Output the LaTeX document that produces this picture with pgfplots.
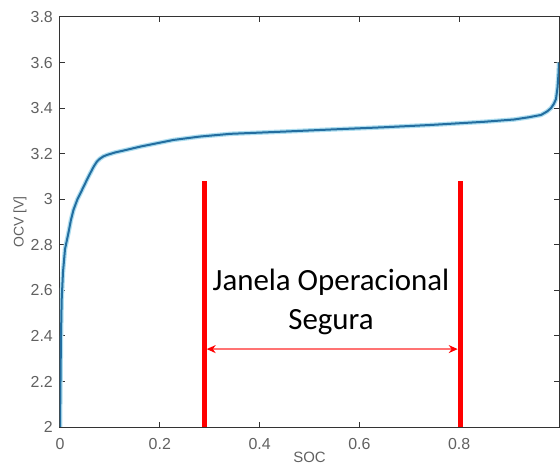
\documentclass[border=0pt]{standalone}
\usepackage{fontspec}
\setmainfont{Liberation Sans}
\newfontfamily\calibri{Carlito}
\usepackage{pgfplots}
\usepackage{pgfplotstable}
\pgfplotsset{compat=1.18}
\usetikzlibrary{arrows.meta}
\definecolor{curveblue}{RGB}{35,110,160}
\definecolor{curveglow}{RGB}{175,222,240}
\pgfplotstableread{
x y
0 2.0
0.001 2.2
0.002 2.4
0.0034 2.56
0.006 2.68
0.010 2.78
0.0167 2.85
0.022 2.91
0.027 2.953
0.035 3.00
0.044 3.04
0.055 3.09
0.062 3.12
0.068 3.145
0.074 3.165
0.080 3.178
0.087 3.188
0.095 3.195
0.110 3.205
0.130 3.215
0.161 3.231
0.195 3.246
0.227 3.26
0.280 3.275
0.341 3.287
0.450 3.297
0.542 3.306
0.650 3.316
0.743 3.326
0.850 3.340
0.910 3.350
0.940 3.360
0.964 3.370
0.976 3.385
0.984 3.400
0.990 3.420
0.994 3.440
0.997 3.490
0.999 3.550
1.000 3.600
}\ocv
\begin{document}
\begin{tikzpicture}
\begin{axis}[
  at={(0,0)}, anchor=south west,
  scale only axis, width=499bp, height=410bp,
  xmin=0, xmax=1, ymin=2, ymax=3.8,
  xtick={0,0.2,0.4,0.6,0.8,1},
  xticklabels={0,0.2,0.4,0.6,0.8,},
  ytick={2,2.2,2.4,2.6,2.8,3,3.2,3.4,3.6,3.8},
  yticklabels={2,2.2,2.4,2.6,2.8,3,3.2,3.4,3.6,3.8},
  tick align=inside, tick pos=both,
  major tick length=5bp,
  axis line style={draw=black!80, line width=1bp},
  every tick/.style={draw=black!80, line width=1bp},
  /pgf/number format/assume math mode=true,
  tick label style={font=\fontsize{16}{16}\selectfont, text=black!62, inner sep=0pt},
  yticklabel style={xshift=-7bp},
  xticklabel style={yshift=-11bp},
  xlabel={SOC},
  ylabel={OCV [V]},
  xlabel style={at={(axis description cs:0.5,0)}, anchor=north, yshift=-25bp, inner sep=0pt, font=\fontsize{15}{15}\selectfont, text=black!62},
  ylabel style={at={([xshift=-40bp]axis description cs:0,0.5)}, anchor=center, inner sep=0pt, font=\fontsize{14}{14}\selectfont, text=black!62},
  clip=true,
]
\addplot[curveglow, line width=4.5bp, line join=round] table {\ocv};
\addplot[curveblue, line width=2bp, line join=round] table {\ocv};
\addplot[red, line width=5bp] coordinates {(0.2886,2.0) (0.2886,3.08)};
\addplot[red, line width=5bp] coordinates {(0.8016,2.0) (0.8016,3.08)};
\addplot[red!55, line width=1.3bp, {Stealth[red,length=9bp,width=8bp]}-{Stealth[red,length=9bp,width=8bp]}] coordinates {(0.294,2.342) (0.797,2.342)};
\node[font=\calibri\fontsize{31}{40}\selectfont, align=center, text=black, inner sep=0pt] at (axis cs:0.543,2.549) {Janela Operacional\\Segura};
\end{axis}
\pgfresetboundingbox
\path[use as bounding box] (-60bp,-43bp) rectangle (500bp,427bp);
\end{tikzpicture}
\end{document}
